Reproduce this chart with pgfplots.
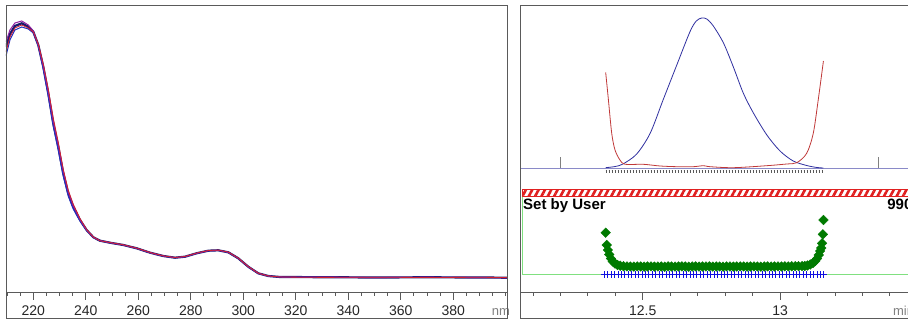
\documentclass[border=0pt]{standalone}
\usepackage{pgfplots}
\pgfplotsset{compat=1.18}
\usepackage{pgfplotstable}
\usepackage{fontspec}
\setmainfont{Liberation Sans}
\usetikzlibrary{patterns.meta}
\definecolor{framegray}{HTML}{5A5A5A}
\definecolor{snavy}{HTML}{1A1A6E}
\definecolor{sred}{HTML}{D02030}
\definecolor{spurple}{HTML}{9020A0}
\definecolor{sblue}{HTML}{2030C0}
\definecolor{cblue}{HTML}{3030A0}
\definecolor{cred}{HTML}{C03838}
\definecolor{cbase}{HTML}{8A8AC8}
\definecolor{lgreen}{HTML}{80E080}
\definecolor{dgreen}{HTML}{007A00}
\definecolor{pblue}{HTML}{1010E0}
\definecolor{hred}{HTML}{E02020}

\pgfplotstableread{
x a b c d
209.6 245 240 250 236
211.1 258 255 262 252
213.0 266 264 269 262
215.6 268.7 267 271 265
218.1 265.3 264 267 263
220.0 260.3 260 261 259
221.9 247 248 247 246
223.8 225.3 228 226 223
225.7 198.7 203 200 196
227.6 168.7 174 171 166
229.5 145.3 150 147 142
231.4 118.7 123 121 116
233.3 98.7 102 100 96
235.2 85.3 88 86 83
237.8 72 73.5 72.5 71
240.3 62 62.5 62 61.5
242.9 54.7 55 54.7 54.5
245.4 51.3 51.3 51.3 51.3
249.2 49.3 49.5 49.3 49.2
254.3 47 47.2 47 46.9
259.4 43.7 43.9 43.7 43.6
264.5 39.3 39.5 39.3 39.2
269.5 36 36.2 36 35.9
274.0 34.3 34.5 34.3 34.2
277.8 35.3 35.5 35.3 35.2
282.2 38.7 38.9 38.7 38.6
286.7 41.3 41.5 41.3 41.2
290.5 41.7 41.9 41.7 41.6
294.3 39.7 39.9 39.7 39.6
298.1 33.7 33.9 33.7 33.6
301.9 25.3 25.5 25.3 25.2
305.7 18.7 18.8 18.7 18.6
309.5 16 16.1 16 15.9
314.0 15 15 15 15
330 14.8 14.6 14.9 14.8
350 14.5 14.8 14.4 14.6
370 14.7 14.5 14.8 14.6
390 14.5 14.7 14.4 14.6
400.6 14.3 14.5 14.2 14.4
}\spectra

\pgfplotstableread{
x h
12.365 124.3
12.40 125.5
12.428 128
12.478 138
12.527 158.7
12.574 192
12.624 227
12.672 260.3
12.695 271
12.715 274
12.733 273
12.757 266
12.794 249
12.830 225
12.866 199
12.903 179
12.952 157
13.0 141
13.048 131
13.097 126.5
13.134 124.5
13.158 124
}\chromblue

\pgfplotstableread{
x h
12.365 219.7
12.375 192
12.387 158.7
12.399 142
12.417 132
12.436 127.7
12.502 127.7
12.563 126
12.624 125.3
12.684 125.3
12.721 126.3
12.745 125.3
12.83 124.3
12.952 126.3
13.024 128
13.061 129.3
13.097 138.7
13.121 158.7
13.139 192
13.158 231
}\chromred

\pgfplotstableread{
x d
12.365 59.3
12.369 47
12.373 42
12.378 37.5
12.384 33.5
12.391 30.5
12.399 28.5
12.408 27
12.418 26.2
12.43 25.8
12.4425 25.6
12.455 25.5
12.4675 25.4
12.48 25.6
12.4925 25.5
12.505 25.3
12.5175 25.5
12.53 25.6
12.5425 25.4
12.555 25.5
12.5675 25.5
12.58 25.3
12.5925 25.6
12.605 25.5
12.6175 25.4
12.63 25.5
12.6425 25.6
12.655 25.5
12.6675 25.3
12.68 25.5
12.6925 25.6
12.705 25.4
12.7175 25.5
12.73 25.5
12.7425 25.6
12.755 25.4
12.7675 25.5
12.78 25.5
12.7925 25.3
12.805 25.6
12.8175 25.5
12.83 25.4
12.8425 25.5
12.855 25.6
12.8675 25.5
12.88 25.4
12.8925 25.5
12.905 25.6
12.9175 25.5
12.93 25.3
12.9425 25.5
12.955 25.6
12.9675 25.5
12.98 25.5
12.9925 25.6
13.005 25.5
13.0175 25.7
13.03 25.6
13.0425 25.7
13.055 25.8
13.0675 25.8
13.08 25.9
13.09 26
13.10 26.5
13.11 27.5
13.12 29
13.128 31
13.135 33.5
13.141 37
13.146 41
13.150 44
13.153 48.7
13.156 57.7
13.158 72
}\resid

\pgfplotstableread{
x p
12.36 17.3
12.3725 17.3
12.385 17.3
12.3975 17.3
12.41 17.3
12.4225 17.3
12.435 17.3
12.4475 17.3
12.46 17.3
12.4725 17.3
12.485 17.3
12.4975 17.3
12.51 17.3
12.5225 17.3
12.535 17.3
12.5475 17.3
12.56 17.3
12.5725 17.3
12.585 17.3
12.5975 17.3
12.61 17.3
12.6225 17.3
12.635 17.3
12.6475 17.3
12.66 17.3
12.6725 17.3
12.685 17.3
12.6975 17.3
12.71 17.3
12.7225 17.3
12.735 17.3
12.7475 17.3
12.76 17.3
12.7725 17.3
12.785 17.3
12.7975 17.3
12.81 17.3
12.8225 17.3
12.835 17.3
12.8475 17.3
12.86 17.3
12.8725 17.3
12.885 17.3
12.8975 17.3
12.91 17.3
12.9225 17.3
12.935 17.3
12.9475 17.3
12.96 17.3
12.9725 17.3
12.985 17.3
12.9975 17.3
13.01 17.3
13.0225 17.3
13.035 17.3
13.0475 17.3
13.06 17.3
13.0725 17.3
13.085 17.3
13.0975 17.3
13.11 17.3
13.1225 17.3
13.135 17.3
13.1475 17.3
13.16 17.3
}\pluses

\begin{document}
\begin{tikzpicture}[x=1pt,y=1pt]
\useasboundingbox (0,0) rectangle (908,320);
\clip (0,0) rectangle (908,320);
\fill[white] (0,0) rectangle (908,320);
\pgfplotsset{
  panel/.style={
    anchor=south west, scale only axis, height=287pt,
    ymin=0, ymax=287, ytick=\empty,
    axis line style={draw=framegray, line width=0.9pt},
    xtick pos=left, tick align=outside,
    major tick length=8pt, minor tick length=4pt,
    tick style={framegray, line width=0.8pt},
    xticklabel style={font=\fontsize{14}{14}\selectfont, anchor=base, yshift=-16pt, text=black!85},
    /pgf/number format/assume math mode=true,
    xlabel style={font=\fontsize{13}{13}\selectfont, text=gray, anchor=base west, inner sep=0pt},
  }
}
% left spectrum panel
\begin{axis}[panel, at={(6pt,28pt)}, width=501.3pt,
  xmin=209.6, xmax=400.6,
  xtick={220,240,...,380}, minor xtick={210,215,...,400},
  xlabel=nm, xlabel style={at={(axis description cs:0.969,0)}, yshift=-24pt}]
\addplot[snavy, line width=2.2pt] table[x=x,y=a] {\spectra};
\addplot[sblue, line width=1pt] table[x=x,y=d] {\spectra};
\addplot[spurple, line width=1pt] table[x=x,y=c] {\spectra};
\addplot[sred, line width=0.8pt] table[x=x,y=b] {\spectra};
\end{axis}
\draw[framegray, line width=0.9pt] (6,2) rectangle (507.3,315);

% right chromatogram panel
\begin{axis}[panel, at={(520pt,28pt)}, width=395pt,
  xmin=12.053, xmax=13.4915,
  xtick={12.5,13},
  minor xtick={12.1,12.2,12.3,12.4,12.6,12.7,12.8,12.9,13.1,13.2,13.3,13.4},
  xlabel=min, xlabel style={at={(axis description cs:0.944,0)}, yshift=-24pt}]
% baseline
\addplot[cbase, line width=0.9pt] coordinates {(12.053,124) (13.4915,124)};
% event tick marks
\addplot[gray, line width=0.9pt] coordinates {(12.199,124) (12.199,135.3)};
\addplot[gray, line width=0.9pt] coordinates {(13.357,124) (13.357,135.3)};
% hash line
\addplot[gray!70!black, line width=3pt, dash pattern=on 0.8pt off 2.2pt] coordinates {(12.365,120) (13.158,120)};
% curves
\addplot[cblue, line width=0.8pt, smooth] table[x=x,y=h] {\chromblue};
\addplot[cred, line width=0.8pt, smooth] table[x=x,y=h] {\chromred};
% hatched bar
\addplot[draw=hred, line width=0.8pt, pattern={Lines[angle=62,distance=5.6pt,line width=2.6pt]}, pattern color=hred]
  coordinates {(12.0616,95.3) (13.6,95.3) (13.6,102.7) (12.0616,102.7)} -- cycle;
% green frame
\addplot[lgreen, line width=0.9pt] coordinates {(12.0616,95.3) (12.0616,17.3) (13.6,17.3)};
% residual marks
\addplot[only marks, mark=square*, mark size=3.4pt, mark options={rotate=45, fill=dgreen, draw=dgreen}] table[x=x,y=d] {\resid};
\addplot[only marks, mark=+, mark size=3.5pt, mark options={draw=pblue, line width=1pt}] table[x=x,y=p] {\pluses};
\node[anchor=base west, inner sep=0pt, font=\fontsize{15}{15}\selectfont\bfseries] at (axis cs:12.064,82) {Set by User};
\node[anchor=base west, inner sep=0pt, font=\fontsize{15}{15}\selectfont\bfseries] at (axis cs:13.39,82) {990};
\end{axis}
\draw[framegray, line width=0.9pt] (520,2) rectangle (915,315);
\end{tikzpicture}
\end{document}
